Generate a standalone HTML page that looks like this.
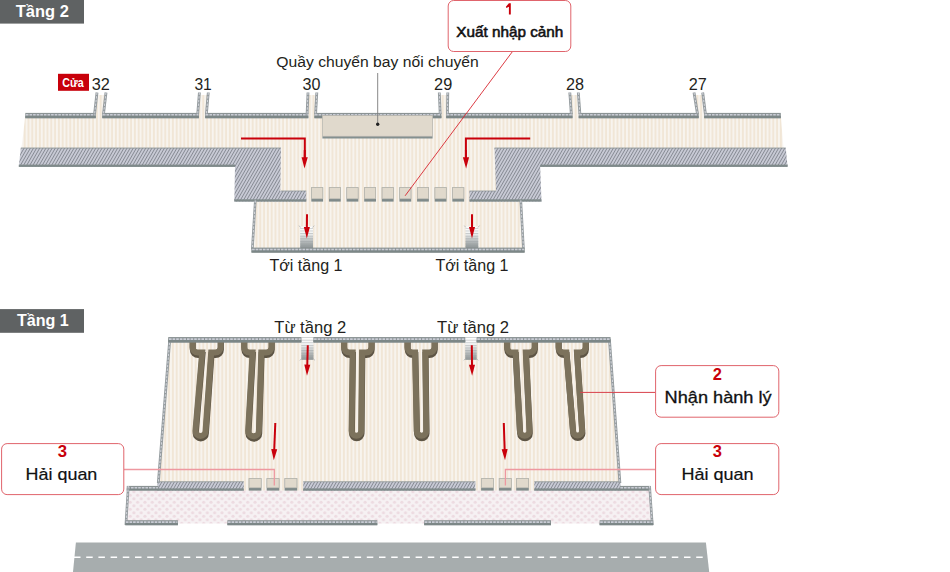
<!DOCTYPE html><html><head><meta charset="utf-8"><style>html,body{margin:0;padding:0;background:#fff;width:950px;height:572px;overflow:hidden}text{font-family:"Liberation Sans",sans-serif}</style></head><body><svg width="950" height="572" viewBox="0 0 950 572" style="display:block">
<defs>
<pattern id="fl" patternUnits="userSpaceOnUse" width="3.8" height="10"><rect width="3.8" height="10" fill="#f8f4ef"/><rect x="0.9" width="1.9" height="10" fill="#f1e6d6"/></pattern>
<pattern id="ht" patternUnits="userSpaceOnUse" width="2.7" height="10" patternTransform="rotate(30)"><rect width="2.7" height="10" fill="#c8cad5"/><rect width="0.9" height="10" fill="#868a93"/></pattern>
<pattern id="dots" patternUnits="userSpaceOnUse" width="7.34" height="7" ><rect width="7.34" height="7" fill="#f6f1f3"/><circle cx="1.8" cy="1.8" r="1.55" fill="#eddbe1"/><circle cx="5.47" cy="5.3" r="1.55" fill="#eddbe1"/></pattern>
<linearGradient id="escA" x1="0" y1="0" x2="0" y2="1"><stop offset="0" stop-color="#ffffff"/><stop offset="0.3" stop-color="#f3f4f4"/><stop offset="0.6" stop-color="#c4c8c9"/><stop offset="1" stop-color="#899091"/></linearGradient>
<linearGradient id="escB" x1="0" y1="0" x2="0" y2="1"><stop offset="0" stop-color="#ffffff"/><stop offset="0.3" stop-color="#f4f5f5"/><stop offset="1" stop-color="#8c9293"/></linearGradient>
<pattern id="steps" patternUnits="userSpaceOnUse" width="20" height="2.6"><rect y="1.9" width="20" height="0.7" fill="#9aa0a1" opacity="0.6"/></pattern>
</defs>
<polygon points="25,118 781,118 783.5,148.5 21.5,148.5" fill="url(#fl)" />
<polygon points="279,147 497,147 497,201 279,201" fill="url(#fl)" />
<polygon points="255.3,200 520.8,200 523.5,249 252.5,249" fill="url(#fl)" />
<polygon points="98,95 105,95 102.5,118 95.6,118" fill="url(#fl)" />
<polygon points="200.4,95 207.3,95 205.4,118 198.7,118" fill="url(#fl)" />
<polygon points="309,95 315.8,95 314.6,118 308.1,118" fill="url(#fl)" />
<polygon points="440.3,95 446.8,95 446.4,118 441.2,118" fill="url(#fl)" />
<polygon points="570.8,95 577.3,95 578.9,118 572.3,118" fill="url(#fl)" />
<polygon points="695,95 701.7,95 704.4,118 698.5,118" fill="url(#fl)" />
<polygon points="20.8,148 281,148 280.3,191 306.3,191 306.3,201.6 234.3,201.6 235,166.8 18.8,166.8" fill="url(#ht)" />
<polygon points="494.5,148 785.8,148 787.6,166.8 540.2,166.8 541.5,201.6 469.4,201.6 469.4,191 496,191" fill="url(#ht)" />
<rect x="20.8" y="147.6" width="260.2" height="0.9" fill="#8d9596"/>
<rect x="494.5" y="147.6" width="291.29999999999995" height="0.9" fill="#8d9596"/>
<rect x="18.8" y="164.6" width="216.2" height="2.3" fill="#7f8a8a"/>
<rect x="540.2" y="164.6" width="247.39999999999998" height="2.3" fill="#7f8a8a"/>
<rect x="234.3" y="199.3" width="72.0" height="2.3" fill="#7f8a8a"/>
<rect x="469.4" y="199.3" width="72.10000000000002" height="2.3" fill="#7f8a8a"/>
<rect x="281" y="190.6" width="25.30000000000001" height="0.8" fill="#8d9596"/>
<rect x="469.4" y="190.6" width="26.600000000000023" height="0.8" fill="#8d9596"/>
<rect x="25.3" y="112.9" width="70.5" height="5.3" fill="#8b9394"/>
<rect x="25.3" y="115.81500000000001" width="70.5" height="2.385" fill="#7c8787"/>
<line x1="25.900000000000002" y1="114.80000000000001" x2="95.2" y2="114.80000000000001" stroke="#c9ccd5" stroke-width="1.6" stroke-dasharray="2.6 1"/>
<rect x="102.3" y="112.9" width="96.59999999999998" height="5.3" fill="#8b9394"/>
<rect x="102.3" y="115.81500000000001" width="96.59999999999998" height="2.385" fill="#7c8787"/>
<line x1="102.89999999999999" y1="114.80000000000001" x2="198.29999999999998" y2="114.80000000000001" stroke="#c9ccd5" stroke-width="1.6" stroke-dasharray="2.6 1"/>
<rect x="205.20000000000002" y="112.9" width="103.1" height="5.3" fill="#8b9394"/>
<rect x="205.20000000000002" y="115.81500000000001" width="103.1" height="2.385" fill="#7c8787"/>
<line x1="205.8" y1="114.80000000000001" x2="307.7" y2="114.80000000000001" stroke="#c9ccd5" stroke-width="1.6" stroke-dasharray="2.6 1"/>
<rect x="314.40000000000003" y="112.9" width="126.99999999999994" height="5.3" fill="#8b9394"/>
<rect x="314.40000000000003" y="115.81500000000001" width="126.99999999999994" height="2.385" fill="#7c8787"/>
<line x1="315.00000000000006" y1="114.80000000000001" x2="440.79999999999995" y2="114.80000000000001" stroke="#c9ccd5" stroke-width="1.6" stroke-dasharray="2.6 1"/>
<rect x="446.2" y="112.9" width="126.30000000000001" height="5.3" fill="#8b9394"/>
<rect x="446.2" y="115.81500000000001" width="126.30000000000001" height="2.385" fill="#7c8787"/>
<line x1="446.8" y1="114.80000000000001" x2="571.9" y2="114.80000000000001" stroke="#c9ccd5" stroke-width="1.6" stroke-dasharray="2.6 1"/>
<rect x="578.6999999999999" y="112.9" width="120.00000000000011" height="5.3" fill="#8b9394"/>
<rect x="578.6999999999999" y="115.81500000000001" width="120.00000000000011" height="2.385" fill="#7c8787"/>
<line x1="579.3" y1="114.80000000000001" x2="698.1" y2="114.80000000000001" stroke="#c9ccd5" stroke-width="1.6" stroke-dasharray="2.6 1"/>
<rect x="704.1999999999999" y="112.9" width="76.60000000000002" height="5.3" fill="#8b9394"/>
<rect x="704.1999999999999" y="115.81500000000001" width="76.60000000000002" height="2.385" fill="#7c8787"/>
<line x1="704.8" y1="114.80000000000001" x2="780.1999999999999" y2="114.80000000000001" stroke="#c9ccd5" stroke-width="1.6" stroke-dasharray="2.6 1"/>
<line x1="97" y1="92.5" x2="94.6" y2="114" stroke="#949b9e" stroke-width="2.8"/>
<line x1="97" y1="92.5" x2="94.6" y2="114" stroke="#d3d5dc" stroke-width="1" stroke-dasharray="2.4 1.3"/>
<line x1="106" y1="92.5" x2="103.5" y2="114" stroke="#949b9e" stroke-width="2.8"/>
<line x1="106" y1="92.5" x2="103.5" y2="114" stroke="#d3d5dc" stroke-width="1" stroke-dasharray="2.4 1.3"/>
<line x1="199.4" y1="92.5" x2="197.7" y2="114" stroke="#949b9e" stroke-width="2.8"/>
<line x1="199.4" y1="92.5" x2="197.7" y2="114" stroke="#d3d5dc" stroke-width="1" stroke-dasharray="2.4 1.3"/>
<line x1="208.3" y1="92.5" x2="206.4" y2="114" stroke="#949b9e" stroke-width="2.8"/>
<line x1="208.3" y1="92.5" x2="206.4" y2="114" stroke="#d3d5dc" stroke-width="1" stroke-dasharray="2.4 1.3"/>
<line x1="308" y1="92.5" x2="307.1" y2="114" stroke="#949b9e" stroke-width="2.8"/>
<line x1="308" y1="92.5" x2="307.1" y2="114" stroke="#d3d5dc" stroke-width="1" stroke-dasharray="2.4 1.3"/>
<line x1="316.8" y1="92.5" x2="315.6" y2="114" stroke="#949b9e" stroke-width="2.8"/>
<line x1="316.8" y1="92.5" x2="315.6" y2="114" stroke="#d3d5dc" stroke-width="1" stroke-dasharray="2.4 1.3"/>
<line x1="439.3" y1="92.5" x2="440.2" y2="114" stroke="#949b9e" stroke-width="2.8"/>
<line x1="439.3" y1="92.5" x2="440.2" y2="114" stroke="#d3d5dc" stroke-width="1" stroke-dasharray="2.4 1.3"/>
<line x1="447.8" y1="92.5" x2="447.4" y2="114" stroke="#949b9e" stroke-width="2.8"/>
<line x1="447.8" y1="92.5" x2="447.4" y2="114" stroke="#d3d5dc" stroke-width="1" stroke-dasharray="2.4 1.3"/>
<line x1="569.8" y1="92.5" x2="571.3" y2="114" stroke="#949b9e" stroke-width="2.8"/>
<line x1="569.8" y1="92.5" x2="571.3" y2="114" stroke="#d3d5dc" stroke-width="1" stroke-dasharray="2.4 1.3"/>
<line x1="578.3" y1="92.5" x2="579.9" y2="114" stroke="#949b9e" stroke-width="2.8"/>
<line x1="578.3" y1="92.5" x2="579.9" y2="114" stroke="#d3d5dc" stroke-width="1" stroke-dasharray="2.4 1.3"/>
<line x1="694" y1="92.5" x2="697.5" y2="114" stroke="#949b9e" stroke-width="2.8"/>
<line x1="694" y1="92.5" x2="697.5" y2="114" stroke="#d3d5dc" stroke-width="1" stroke-dasharray="2.4 1.3"/>
<line x1="702.7" y1="92.5" x2="705.4" y2="114" stroke="#949b9e" stroke-width="2.8"/>
<line x1="702.7" y1="92.5" x2="705.4" y2="114" stroke="#d3d5dc" stroke-width="1" stroke-dasharray="2.4 1.3"/>
<rect x="322.4" y="115.6" width="110.2" height="22.9" fill="#849090"/>
<rect x="322.4" y="115.6" width="110.2" height="20.6" fill="#e0d9cc" stroke="#bdbab2" stroke-width="0.6"/>
<line x1="377.7" y1="73" x2="377.7" y2="124" stroke="#7a7a7a" stroke-width="0.9"/>
<circle cx="377.7" cy="124.2" r="1.7" fill="#222"/>
<rect x="311.3" y="187.3" width="11.8" height="14.3" fill="#7f8a8a"/>
<rect x="311.6" y="187.60000000000002" width="11.200000000000001" height="11.200000000000001" fill="#e0d9cc" stroke="#b9b8b0" stroke-width="0.6"/>
<rect x="328.93" y="187.3" width="11.8" height="14.3" fill="#7f8a8a"/>
<rect x="329.23" y="187.60000000000002" width="11.200000000000001" height="11.200000000000001" fill="#e0d9cc" stroke="#b9b8b0" stroke-width="0.6"/>
<rect x="346.56" y="187.3" width="11.8" height="14.3" fill="#7f8a8a"/>
<rect x="346.86" y="187.60000000000002" width="11.200000000000001" height="11.200000000000001" fill="#e0d9cc" stroke="#b9b8b0" stroke-width="0.6"/>
<rect x="364.19" y="187.3" width="11.8" height="14.3" fill="#7f8a8a"/>
<rect x="364.49" y="187.60000000000002" width="11.200000000000001" height="11.200000000000001" fill="#e0d9cc" stroke="#b9b8b0" stroke-width="0.6"/>
<rect x="381.82" y="187.3" width="11.8" height="14.3" fill="#7f8a8a"/>
<rect x="382.12" y="187.60000000000002" width="11.200000000000001" height="11.200000000000001" fill="#e0d9cc" stroke="#b9b8b0" stroke-width="0.6"/>
<rect x="399.45" y="187.3" width="11.8" height="14.3" fill="#7f8a8a"/>
<rect x="399.75" y="187.60000000000002" width="11.200000000000001" height="11.200000000000001" fill="#e0d9cc" stroke="#b9b8b0" stroke-width="0.6"/>
<rect x="417.08000000000004" y="187.3" width="11.8" height="14.3" fill="#7f8a8a"/>
<rect x="417.38000000000005" y="187.60000000000002" width="11.200000000000001" height="11.200000000000001" fill="#e0d9cc" stroke="#b9b8b0" stroke-width="0.6"/>
<rect x="434.71000000000004" y="187.3" width="11.8" height="14.3" fill="#7f8a8a"/>
<rect x="435.01000000000005" y="187.60000000000002" width="11.200000000000001" height="11.200000000000001" fill="#e0d9cc" stroke="#b9b8b0" stroke-width="0.6"/>
<rect x="452.34000000000003" y="187.3" width="11.8" height="14.3" fill="#7f8a8a"/>
<rect x="452.64000000000004" y="187.60000000000002" width="11.200000000000001" height="11.200000000000001" fill="#e0d9cc" stroke="#b9b8b0" stroke-width="0.6"/>
<line x1="255.3" y1="200.5" x2="252.3" y2="249.5" stroke="#949b9e" stroke-width="2.6"/>
<line x1="255.3" y1="200.5" x2="252.3" y2="249.5" stroke="#d3d5dc" stroke-width="1" stroke-dasharray="2.4 1.3"/>
<line x1="520.8" y1="200.5" x2="523.5" y2="249.5" stroke="#949b9e" stroke-width="2.6"/>
<line x1="520.8" y1="200.5" x2="523.5" y2="249.5" stroke="#d3d5dc" stroke-width="1" stroke-dasharray="2.4 1.3"/>
<rect x="251.5" y="247.6" width="273.1" height="5" fill="#8b9394"/>
<rect x="251.5" y="250.35" width="273.1" height="2.25" fill="#7c8787"/>
<line x1="252.1" y1="249.5" x2="524.0" y2="249.5" stroke="#c9ccd5" stroke-width="1.6" stroke-dasharray="2.6 1"/>
<rect x="300.2" y="226.4" width="12.8" height="21.6" fill="url(#escA)"/>
<rect x="300.2" y="226.4" width="12.8" height="21.6" fill="url(#steps)"/>
<path d="M299.0,225.6 L300.59999999999997,227.5 M314.2,225.6 L312.59999999999997,227.5" stroke="#b0b4b5" stroke-width="0.8"/>
<rect x="465.5" y="226.4" width="12.8" height="21.6" fill="url(#escA)"/>
<rect x="465.5" y="226.4" width="12.8" height="21.6" fill="url(#steps)"/>
<path d="M464.3,225.6 L465.9,227.5 M479.5,225.6 L477.9,227.5" stroke="#b0b4b5" stroke-width="0.8"/>
<polyline points="241,138.4 304.8,138.4 304.8,158" fill="none" stroke="#c9000b" stroke-width="2"/>
<line x1="304.8" y1="150" x2="304.6661074275981" y2="158.3013394889191" stroke="#c9000b" stroke-width="2"/>
<polygon points="304.5,168.6 301.5826375094668,157.25147603876036 307.78183121516594,157.3514630340136" fill="#c9000b"/>
<polyline points="530.2,138.4 465.9,138.4 465.9,158" fill="none" stroke="#c9000b" stroke-width="2"/>
<line x1="465.9" y1="150" x2="465.9892537139025" y2="158.30059539293092" stroke="#c9000b" stroke-width="2"/>
<polygon points="466.1,168.6 462.87868084322173,157.33398460456522 469.0783224513604,157.2673217915745" fill="#c9000b"/>
<line x1="307.0" y1="214.2" x2="306.886062682705" y2="228.10035270998853" stroke="#c9000b" stroke-width="2"/>
<polygon points="306.8,238.6 303.89435990295937,227.07579696350027 309.8941583543945,227.12497563933172" fill="#c9000b"/>
<line x1="472" y1="214.2" x2="472.0" y2="228.1" stroke="#c9000b" stroke-width="2"/>
<polygon points="472,238.6 469.0,227.1 475.0,227.1" fill="#c9000b"/>
<line x1="512.5" y1="51.5" x2="405.1" y2="195.8" stroke="#d8262f" stroke-width="0.9"/>
<polygon points="169,341 610,341 620,483 157.8,483" fill="url(#fl)" />
<polygon points="128.8,488 649.4,488 652.2,523.5 126.3,523.5" fill="url(#dots)" />
<polygon points="243.8,481 303.2,481 303.2,490.4 243.8,490.4" fill="url(#fl)" />
<polygon points="475.4,481 534.3,481 534.3,490.4 475.4,490.4" fill="url(#fl)" />
<polygon points="157.5,481.7 243.8,481.7 243.8,490.6 157.5,490.6" fill="url(#ht)" />
<rect x="157.5" y="481.4" width="86.30000000000001" height="0.8" fill="#8d9596"/>
<rect x="157.5" y="488.4" width="86.30000000000001" height="2.3" fill="#7f8a8a"/>
<polygon points="303.2,481.7 475.4,481.7 475.4,490.6 303.2,490.6" fill="url(#ht)" />
<rect x="303.2" y="481.4" width="172.2" height="0.8" fill="#8d9596"/>
<rect x="303.2" y="488.4" width="172.2" height="2.3" fill="#7f8a8a"/>
<polygon points="534.3,481.7 620.6,481.7 620.6,490.6 534.3,490.6" fill="url(#ht)" />
<rect x="534.3" y="481.4" width="86.30000000000007" height="0.8" fill="#8d9596"/>
<rect x="534.3" y="488.4" width="86.30000000000007" height="2.3" fill="#7f8a8a"/>
<rect x="126.8" y="485.9" width="31.700000000000003" height="4.6" fill="#8b9394"/>
<rect x="126.8" y="488.42999999999995" width="31.700000000000003" height="2.07" fill="#7c8787"/>
<line x1="127.39999999999999" y1="487.79999999999995" x2="157.9" y2="487.79999999999995" stroke="#c9ccd5" stroke-width="1.6" stroke-dasharray="2.6 1"/>
<rect x="619.8" y="485.9" width="30.800000000000068" height="4.6" fill="#8b9394"/>
<rect x="619.8" y="488.42999999999995" width="30.800000000000068" height="2.07" fill="#7c8787"/>
<line x1="620.4" y1="487.79999999999995" x2="650.0" y2="487.79999999999995" stroke="#c9ccd5" stroke-width="1.6" stroke-dasharray="2.6 1"/>
<line x1="128.3" y1="486" x2="125.9" y2="525" stroke="#949b9e" stroke-width="2.6"/>
<line x1="128.3" y1="486" x2="125.9" y2="525" stroke="#d3d5dc" stroke-width="1" stroke-dasharray="2.4 1.3"/>
<line x1="649.6" y1="486" x2="652.3" y2="525" stroke="#949b9e" stroke-width="2.6"/>
<line x1="649.6" y1="486" x2="652.3" y2="525" stroke="#d3d5dc" stroke-width="1" stroke-dasharray="2.4 1.3"/>
<rect x="125.3" y="520.2" width="52.60000000000001" height="5" fill="#8b9394"/>
<rect x="125.3" y="522.95" width="52.60000000000001" height="2.25" fill="#7c8787"/>
<line x1="125.89999999999999" y1="522.1" x2="177.3" y2="522.1" stroke="#c9ccd5" stroke-width="1.6" stroke-dasharray="2.6 1"/>
<rect x="227.4" y="520.2" width="149.9" height="5" fill="#8b9394"/>
<rect x="227.4" y="522.95" width="149.9" height="2.25" fill="#7c8787"/>
<line x1="228.0" y1="522.1" x2="376.7" y2="522.1" stroke="#c9ccd5" stroke-width="1.6" stroke-dasharray="2.6 1"/>
<rect x="424.2" y="520.2" width="126.80000000000001" height="5" fill="#8b9394"/>
<rect x="424.2" y="522.95" width="126.80000000000001" height="2.25" fill="#7c8787"/>
<line x1="424.8" y1="522.1" x2="550.4" y2="522.1" stroke="#c9ccd5" stroke-width="1.6" stroke-dasharray="2.6 1"/>
<rect x="599.6" y="520.2" width="53.60000000000002" height="5" fill="#8b9394"/>
<rect x="599.6" y="522.95" width="53.60000000000002" height="2.25" fill="#7c8787"/>
<line x1="600.2" y1="522.1" x2="652.6" y2="522.1" stroke="#c9ccd5" stroke-width="1.6" stroke-dasharray="2.6 1"/>
<rect x="168.4" y="337.2" width="442.0" height="5.1" fill="#8b9394"/>
<rect x="168.4" y="340.005" width="442.0" height="2.295" fill="#7c8787"/>
<line x1="169.0" y1="339.09999999999997" x2="609.8" y2="339.09999999999997" stroke="#c9ccd5" stroke-width="1.6" stroke-dasharray="2.6 1"/>
<line x1="169.8" y1="339" x2="158.3" y2="483" stroke="#949b9e" stroke-width="2.8"/>
<line x1="169.8" y1="339" x2="158.3" y2="483" stroke="#d3d5dc" stroke-width="1" stroke-dasharray="2.4 1.3"/>
<line x1="609.4" y1="339" x2="619.9" y2="483" stroke="#949b9e" stroke-width="2.8"/>
<line x1="609.4" y1="339" x2="619.9" y2="483" stroke="#d3d5dc" stroke-width="1" stroke-dasharray="2.4 1.3"/>
<rect x="301.3" y="337" width="12.2" height="22.8" fill="url(#escB)"/>
<rect x="301.3" y="337" width="12.2" height="22.8" fill="url(#steps)"/>
<path d="M299.8,360.4 L301.6,358.6 M315.0,360.4 L313.2,358.6" stroke="#b0b4b5" stroke-width="0.8"/>
<rect x="465.2" y="337" width="11.5" height="22.8" fill="url(#escB)"/>
<rect x="465.2" y="337" width="11.5" height="22.8" fill="url(#steps)"/>
<path d="M463.7,360.4 L465.5,358.6 M478.2,360.4 L476.4,358.6" stroke="#b0b4b5" stroke-width="0.8"/>
<path d="M192.5,338 L192.5,347.20000000000005 A5.4 5.4 0 0 0 197.9,352.6 L202.18957142857144,352.6 L195.4222142857143,430.9 A5.0817499999999995 5.0817499999999995 0 0 0 205.5857142857143,430.9 L211.17857142857144,352.6 L215.2,352.6 A5.4 5.4 0 0 0 220.6,347.20000000000005 L220.6,338" fill="none" stroke="#5e5545" stroke-width="6" stroke-linejoin="miter" transform="translate(0.3,2.5)"/>
<path d="M192.5,338 L192.5,347.20000000000005 A5.4 5.4 0 0 0 197.9,352.6 L202.18957142857144,352.6 L195.4222142857143,430.9 A5.0817499999999995 5.0817499999999995 0 0 0 205.5857142857143,430.9 L211.17857142857144,352.6 L215.2,352.6 A5.4 5.4 0 0 0 220.6,347.20000000000005 L220.6,338" fill="none" stroke="#7c725c" stroke-width="6" stroke-linejoin="miter"/>
<path d="M244.1,338 L244.1,347.20000000000005 A5.4 5.4 0 0 0 249.5,352.6 L252.56757142857143,352.6 L248.1492142857143,430.9 A5.386892857142854 5.386892857142854 0 0 0 258.923,430.9 L261.272,352.6 L266.1,352.6 A5.4 5.4 0 0 0 271.5,347.20000000000005 L271.5,338" fill="none" stroke="#5e5545" stroke-width="6" stroke-linejoin="miter" transform="translate(0.3,2.5)"/>
<path d="M244.1,338 L244.1,347.20000000000005 A5.4 5.4 0 0 0 249.5,352.6 L252.56757142857143,352.6 L248.1492142857143,430.9 A5.386892857142854 5.386892857142854 0 0 0 258.923,430.9 L261.272,352.6 L266.1,352.6 A5.4 5.4 0 0 0 271.5,347.20000000000005 L271.5,338" fill="none" stroke="#7c725c" stroke-width="6" stroke-linejoin="miter"/>
<path d="M344.0,338 L344.0,347.20000000000005 A5.4 5.4 0 0 0 349.4,352.6 L352.6504285714285,352.6 L351.58778571428576,430.9 A4.826607142857114 4.826607142857114 0 0 0 361.241,430.9 L362.02400000000006,352.6 L366.0,352.6 A5.4 5.4 0 0 0 371.4,347.20000000000005 L371.4,338" fill="none" stroke="#5e5545" stroke-width="6" stroke-linejoin="miter" transform="translate(0.3,2.5)"/>
<path d="M344.0,338 L344.0,347.20000000000005 A5.4 5.4 0 0 0 349.4,352.6 L352.6504285714285,352.6 L351.58778571428576,430.9 A4.826607142857114 4.826607142857114 0 0 0 361.241,430.9 L362.02400000000006,352.6 L366.0,352.6 A5.4 5.4 0 0 0 371.4,347.20000000000005 L371.4,338" fill="none" stroke="#7c725c" stroke-width="6" stroke-linejoin="miter"/>
<path d="M407.4,338 L407.4,347.20000000000005 A5.4 5.4 0 0 0 412.79999999999995,352.6 L415.0967142857143,352.6 L416.71864285714287,430.9 A4.7714642857142735 4.7714642857142735 0 0 0 426.2615714285714,430.9 L425.2548571428572,352.6 L429.1,352.6 A5.4 5.4 0 0 0 434.5,347.20000000000005 L434.5,338" fill="none" stroke="#5e5545" stroke-width="6" stroke-linejoin="miter" transform="translate(0.3,2.5)"/>
<path d="M407.4,338 L407.4,347.20000000000005 A5.4 5.4 0 0 0 412.79999999999995,352.6 L415.0967142857143,352.6 L416.71864285714287,430.9 A4.7714642857142735 4.7714642857142735 0 0 0 426.2615714285714,430.9 L425.2548571428572,352.6 L429.1,352.6 A5.4 5.4 0 0 0 434.5,347.20000000000005 L434.5,338" fill="none" stroke="#7c725c" stroke-width="6" stroke-linejoin="miter"/>
<path d="M507.0,338 L507.0,347.20000000000005 A5.4 5.4 0 0 0 512.4,352.6 L515.5429999999999,352.6 L519.8494999999999,430.9 A4.821464285714342 4.821464285714342 0 0 0 529.4924285714286,430.9 L525.8011428571428,352.6 L529.2,352.6 A5.4 5.4 0 0 0 534.6,347.20000000000005 L534.6,338" fill="none" stroke="#5e5545" stroke-width="6" stroke-linejoin="miter" transform="translate(0.3,2.5)"/>
<path d="M507.0,338 L507.0,347.20000000000005 A5.4 5.4 0 0 0 512.4,352.6 L515.5429999999999,352.6 L519.8494999999999,430.9 A4.821464285714342 4.821464285714342 0 0 0 529.4924285714286,430.9 L525.8011428571428,352.6 L529.2,352.6 A5.4 5.4 0 0 0 534.6,347.20000000000005 L534.6,338" fill="none" stroke="#7c725c" stroke-width="6" stroke-linejoin="miter"/>
<path d="M558.5,338 L558.5,347.20000000000005 A5.4 5.4 0 0 0 563.9,352.6 L566.4315714285714,352.6 L572.9752142857143,430.9 A4.566964285714278 4.566964285714278 0 0 0 582.1091428571428,430.9 L576.9637142857143,352.6 L580.2,352.6 A5.4 5.4 0 0 0 585.6,347.20000000000005 L585.6,338" fill="none" stroke="#5e5545" stroke-width="6" stroke-linejoin="miter" transform="translate(0.3,2.5)"/>
<path d="M558.5,338 L558.5,347.20000000000005 A5.4 5.4 0 0 0 563.9,352.6 L566.4315714285714,352.6 L572.9752142857143,430.9 A4.566964285714278 4.566964285714278 0 0 0 582.1091428571428,430.9 L576.9637142857143,352.6 L580.2,352.6 A5.4 5.4 0 0 0 585.6,347.20000000000005 L585.6,338" fill="none" stroke="#7c725c" stroke-width="6" stroke-linejoin="miter"/>
<rect x="168.4" y="337.2" width="132.9" height="5.1" fill="#8b9394"/>
<rect x="168.4" y="340.005" width="132.9" height="2.295" fill="#7c8787"/>
<line x1="169.0" y1="339.09999999999997" x2="300.7" y2="339.09999999999997" stroke="#c9ccd5" stroke-width="1.6" stroke-dasharray="2.6 1"/>
<rect x="313.5" y="337.2" width="151.7" height="5.1" fill="#8b9394"/>
<rect x="313.5" y="340.005" width="151.7" height="2.295" fill="#7c8787"/>
<line x1="314.1" y1="339.09999999999997" x2="464.59999999999997" y2="339.09999999999997" stroke="#c9ccd5" stroke-width="1.6" stroke-dasharray="2.6 1"/>
<rect x="476.7" y="337.2" width="133.7" height="5.1" fill="#8b9394"/>
<rect x="476.7" y="340.005" width="133.7" height="2.295" fill="#7c8787"/>
<line x1="477.3" y1="339.09999999999997" x2="609.8" y2="339.09999999999997" stroke="#c9ccd5" stroke-width="1.6" stroke-dasharray="2.6 1"/>
<rect x="248.8" y="478.3" width="12.6" height="12.3" fill="#7f8a8a"/>
<rect x="249.10000000000002" y="478.6" width="12.0" height="9.200000000000001" fill="#e0d9cc" stroke="#b9b8b0" stroke-width="0.6"/>
<rect x="266.7" y="478.3" width="12.6" height="12.3" fill="#7f8a8a"/>
<rect x="267.0" y="478.6" width="12.0" height="9.200000000000001" fill="#e0d9cc" stroke="#b9b8b0" stroke-width="0.6"/>
<rect x="284.6" y="478.3" width="12.6" height="12.3" fill="#7f8a8a"/>
<rect x="284.90000000000003" y="478.6" width="12.0" height="9.200000000000001" fill="#e0d9cc" stroke="#b9b8b0" stroke-width="0.6"/>
<rect x="481.1" y="478.3" width="12.6" height="12.3" fill="#7f8a8a"/>
<rect x="481.40000000000003" y="478.6" width="12.0" height="9.200000000000001" fill="#e0d9cc" stroke="#b9b8b0" stroke-width="0.6"/>
<rect x="498.9" y="478.3" width="12.6" height="12.3" fill="#7f8a8a"/>
<rect x="499.2" y="478.6" width="12.0" height="9.200000000000001" fill="#e0d9cc" stroke="#b9b8b0" stroke-width="0.6"/>
<rect x="516.2" y="478.3" width="12.6" height="12.3" fill="#7f8a8a"/>
<rect x="516.5" y="478.6" width="12.0" height="9.200000000000001" fill="#e0d9cc" stroke="#b9b8b0" stroke-width="0.6"/>
<line x1="307.8" y1="345.3" x2="307.26306682088233" y2="365.7034608064715" stroke="#c9000b" stroke-width="2"/>
<polygon points="307.0,375.7 304.29041174491203,364.62488684085395 310.28833526102915,364.7827269333834" fill="#c9000b"/>
<line x1="471.8" y1="345.3" x2="472.0013205943399" y2="365.7004868931083" stroke="#c9000b" stroke-width="2"/>
<polygon points="472.1,375.7 468.9915987217064,364.7301394041172 474.99130658584136,364.6709317607211" fill="#c9000b"/>
<line x1="275.3" y1="423" x2="274.20289840110814" y2="450.20811965251863" stroke="#c9000b" stroke-width="2"/>
<polygon points="273.8,460.2 271.2456241369745,449.088062097438 277.24075234546336,449.32980113810294" fill="#c9000b"/>
<line x1="503.8" y1="423" x2="504.6775870598904" y2="450.205198856603" stroke="#c9000b" stroke-width="2"/>
<polygon points="505.0,460.2 501.64690542286036,449.30244262429613 507.6437861088986,449.10899486023044" fill="#c9000b"/>
<polyline points="124,469.5 274.3,469.5 274.3,485.5" fill="none" stroke="#ee98a0" stroke-width="1.3"/>
<polyline points="655,469.5 505.4,469.5 505.4,485.5" fill="none" stroke="#ee98a0" stroke-width="1.3"/>
<line x1="580.2" y1="392.4" x2="655.3" y2="392.4" stroke="#d8404a" stroke-width="1"/>
<polygon points="75.9,542.5 705.9,542.5 709.2,572 73,572" fill="#a7adae" />
<line x1="74" y1="557.3" x2="706" y2="557.3" stroke="#ffffff" stroke-width="1.5" stroke-dasharray="6.5 5.7"/>
<rect x="0" y="0" width="84" height="23.6" fill="#5f6263"/>
<rect x="0" y="309.1" width="84" height="23.7" fill="#5f6263"/>
<rect x="58" y="73.8" width="31" height="17" fill="#c8000a"/>
<rect x="448.2" y="0.5" width="122.6" height="51" rx="5.5" ry="5.5" fill="#fff" stroke="#e0646c" stroke-width="1"/>
<rect x="655.6" y="365.6" width="123.2" height="51.6" rx="5.5" ry="5.5" fill="#fff" stroke="#e0646c" stroke-width="1"/>
<rect x="1.6" y="443.6" width="122.2" height="51" rx="5.5" ry="5.5" fill="#fff" stroke="#e0646c" stroke-width="1"/>
<rect x="655.6" y="443.6" width="123.2" height="51" rx="5.5" ry="5.5" fill="#fff" stroke="#e0646c" stroke-width="1"/>
<text x="15.80" y="17.0" font-family="Liberation Sans, sans-serif" font-size="16" font-weight="bold" fill="#fff" textLength="52.98" lengthAdjust="spacingAndGlyphs">Tầng 2</text>
<text x="17.00" y="325.9" font-family="Liberation Sans, sans-serif" font-size="16" font-weight="bold" fill="#fff" textLength="51.76" lengthAdjust="spacingAndGlyphs">Tầng 1</text>
<text x="62.35" y="87.4" font-family="Liberation Sans, sans-serif" font-size="12.5" font-weight="bold" fill="#fff" textLength="21.38" lengthAdjust="spacingAndGlyphs">Cửa</text>
<text x="91.68" y="89.6" font-family="Liberation Sans, sans-serif" font-size="16" font-weight="normal" fill="#231f20" textLength="18.13" lengthAdjust="spacingAndGlyphs">32</text>
<text x="194.43" y="89.6" font-family="Liberation Sans, sans-serif" font-size="16" font-weight="normal" fill="#231f20" textLength="17.35" lengthAdjust="spacingAndGlyphs">31</text>
<text x="302.49" y="89.6" font-family="Liberation Sans, sans-serif" font-size="16" font-weight="normal" fill="#231f20" textLength="17.91" lengthAdjust="spacingAndGlyphs">30</text>
<text x="434.08" y="89.6" font-family="Liberation Sans, sans-serif" font-size="16" font-weight="normal" fill="#231f20" textLength="18.13" lengthAdjust="spacingAndGlyphs">29</text>
<text x="566.09" y="89.6" font-family="Liberation Sans, sans-serif" font-size="16" font-weight="normal" fill="#231f20" textLength="18.02" lengthAdjust="spacingAndGlyphs">28</text>
<text x="688.79" y="89.6" font-family="Liberation Sans, sans-serif" font-size="16" font-weight="normal" fill="#231f20" textLength="18.02" lengthAdjust="spacingAndGlyphs">27</text>
<text x="276.27" y="66.6" font-family="Liberation Sans, sans-serif" font-size="15.2" font-weight="normal" fill="#231f20" textLength="202.45" lengthAdjust="spacingAndGlyphs">Quầy chuyển bay nối chuyển</text>
<text x="456.25" y="36.9" font-family="Liberation Sans, sans-serif" font-size="14.6" font-weight="normal" fill="#111" stroke="#111" stroke-width="0.55" textLength="107.01" lengthAdjust="spacingAndGlyphs">Xuất nhập cảnh</text>
<text x="269.50" y="270.5" font-family="Liberation Sans, sans-serif" font-size="15.6" font-weight="normal" fill="#231f20" textLength="73.03" lengthAdjust="spacingAndGlyphs">Tới tầng 1</text>
<text x="435.50" y="270.5" font-family="Liberation Sans, sans-serif" font-size="15.6" font-weight="normal" fill="#231f20" textLength="73.03" lengthAdjust="spacingAndGlyphs">Tới tầng 1</text>
<text x="274.30" y="332.5" font-family="Liberation Sans, sans-serif" font-size="15.6" font-weight="normal" fill="#231f20" textLength="71.90" lengthAdjust="spacingAndGlyphs">Từ tầng 2</text>
<text x="437.10" y="332.5" font-family="Liberation Sans, sans-serif" font-size="15.6" font-weight="normal" fill="#231f20" textLength="72.00" lengthAdjust="spacingAndGlyphs">Từ tầng 2</text>
<text x="712.67" y="380.0" font-family="Liberation Sans, sans-serif" font-size="16" font-weight="bold" fill="#c8000a" textLength="9.16" lengthAdjust="spacingAndGlyphs">2</text>
<text x="664.58" y="402.7" font-family="Liberation Sans, sans-serif" font-size="16.2" font-weight="normal" fill="#111" stroke="#111" stroke-width="0.3" textLength="107.08" lengthAdjust="spacingAndGlyphs">Nhận hành lý</text>
<text x="57.76" y="457.3" font-family="Liberation Sans, sans-serif" font-size="16" font-weight="bold" fill="#c8000a" textLength="9.29" lengthAdjust="spacingAndGlyphs">3</text>
<text x="712.67" y="457.3" font-family="Liberation Sans, sans-serif" font-size="16" font-weight="bold" fill="#c8000a" textLength="9.16" lengthAdjust="spacingAndGlyphs">3</text>
<text x="25.62" y="480.0" font-family="Liberation Sans, sans-serif" font-size="16.6" font-weight="normal" fill="#111" stroke="#111" stroke-width="0.2" textLength="71.73" lengthAdjust="spacingAndGlyphs">Hải quan</text>
<text x="681.51" y="480.0" font-family="Liberation Sans, sans-serif" font-size="16.6" font-weight="normal" fill="#111" stroke="#111" stroke-width="0.2" textLength="72.15" lengthAdjust="spacingAndGlyphs">Hải quan</text>
<path d="M508.9,3.3 L510.8,3.3 L510.8,14.6 L508.9,14.6 L508.9,6.7 L506.4,8.1 L505.9,6.7 Z" fill="#c8000a"/>
</svg></body></html>
